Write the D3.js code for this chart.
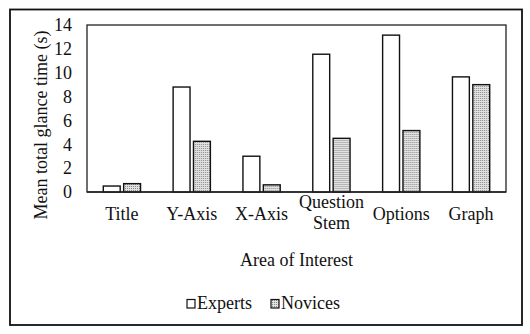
<!DOCTYPE html>
<html><head><meta charset="utf-8">
<script src="https://cdn.jsdelivr.net/npm/d3@7"></script>
<style>
body{margin:0;background:#fff;}
svg{display:block;}
svg text{font-family:"Liberation Serif","Times New Roman",serif !important;fill:#111;}
</style></head>
<body><svg id="c" width="530" height="334"></svg>
<script>
const categories = ["Title","Y-Axis","X-Axis","Question Stem","Options","Graph"];
const seriesNames = ["Experts","Novices"];
const experts = [0.5, 8.8, 3.0, 11.55, 13.15, 9.65];
const novices = [0.7, 4.25, 0.6, 4.5, 5.15, 9.0];
const yTicks = [0,2,4,6,8,10,12,14];
const xTitle = "Area of Interest";
const yTitle = "Mean total glance time (s)";

const FS = 18;
const svg = d3.select("#c");
const defs = svg.append("defs");
const pat = defs.append("pattern").attr("id","dots").attr("patternUnits","userSpaceOnUse")
  .attr("width",2).attr("height",2);
pat.append("rect").attr("width",2).attr("height",2).attr("fill","#e2e2e2");
pat.append("rect").attr("width",1).attr("height",1).attr("fill","#8a8a8a");

const fills = {"Experts":"#fff","Novices":"url(#dots)"};

// outer frame
svg.append("rect").attr("x",10).attr("y",9.5).attr("width",512).attr("height",315.5)
  .attr("fill","none").attr("stroke","#111").attr("stroke-width",1.8);

const L=87, R=506, T=25, B=192;
const x0 = d3.scaleBand().domain(categories).range([L,R]);
const x1 = d3.scaleBand().domain(seriesNames).range([0,x0.bandwidth()]).paddingInner(0.17).paddingOuter(0.8);
const y = d3.scaleLinear().domain([0,14]).range([B,T]);

// plot box
svg.append("rect").attr("x",L).attr("y",T).attr("width",R-L).attr("height",B-T)
  .attr("fill","none").attr("stroke","#222").attr("stroke-width",1.3);

const data = categories.map((c,i)=>({c, vals:[{s:"Experts",v:experts[i]},{s:"Novices",v:novices[i]}]}));
const g = svg.append("g");
g.selectAll("g.cat").data(data).join("g").attr("class","cat")
  .attr("transform",d=>`translate(${x0(d.c)},0)`)
  .selectAll("rect").data(d=>d.vals).join("rect")
  .attr("x",d=>x1(d.s)).attr("width",x1.bandwidth())
  .attr("y",d=>y(d.v)).attr("height",d=>B-y(d.v))
  .attr("fill",d=>fills[d.s]).attr("stroke","#111").attr("stroke-width",1.4);

// redraw baseline
svg.append("line").attr("x1",L).attr("x2",R).attr("y1",B).attr("y2",B).attr("stroke","#222").attr("stroke-width",1.4);

// y axis
const yAxis = d3.axisLeft(y).tickValues(yTicks).tickSize(0).tickPadding(0);
const ya = svg.append("g").attr("transform",`translate(72,0)`).call(yAxis);
ya.select(".domain").remove();
ya.selectAll("text").attr("font-size",FS);

// x axis
const xAxis = d3.axisBottom(x0).tickSize(0).tickPadding(0);
const xa = svg.append("g").attr("transform",`translate(0,${B})`).call(xAxis);
xa.select(".domain").remove();
xa.selectAll("text").attr("font-size",FS).attr("y",15.5)
  .each(function(d){
    const t=d3.select(this); const words=d.split(" ");
    if(words.length>1){
      t.text(null);
      words.forEach((w,i)=>t.append("tspan").attr("x",0).attr("dy",i===0?"0":"1.17em").text(w));
    }
  });

svg.append("text").attr("x",(L+R)/2).attr("y",266).attr("text-anchor","middle")
  .attr("font-size",FS).text(xTitle);
svg.append("text").attr("transform","translate(47,125) rotate(-90)").attr("text-anchor","middle")
  .attr("font-size",FS).text(yTitle);

// legend
const leg = svg.append("g");
const legItems = [{s:"Experts",x:187},{s:"Novices",x:271}];
legItems.forEach(it=>{
  leg.append("rect").attr("x",it.x).attr("y",299.5).attr("width",8).attr("height",8.5)
    .attr("fill",fills[it.s]).attr("stroke","#111").attr("stroke-width",1.2);
  leg.append("text").attr("x",it.x+10).attr("y",309).attr("font-size",FS).text(it.s);
});
</script></body></html>
